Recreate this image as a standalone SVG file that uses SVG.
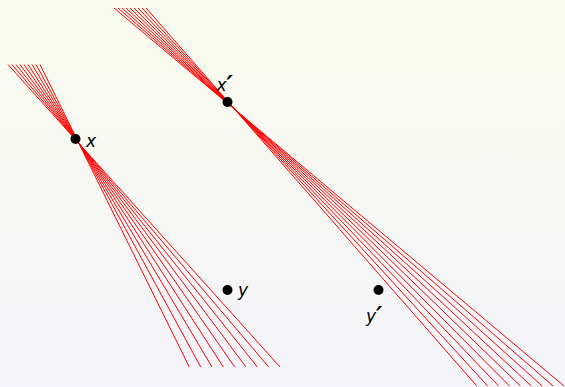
<svg xmlns="http://www.w3.org/2000/svg" width="565" height="387" viewBox="0 0 565 387">
<defs>
<linearGradient id="bg" x1="0" y1="0" x2="0" y2="1">
<stop offset="0" stop-color="#fafbee"/>
<stop offset="1" stop-color="#f4f4fa"/>
</linearGradient>
</defs>
<style>
.ray{stroke:#ff0000;stroke-width:1;fill:none}
.dot{fill:#000}
.lbl{font-family:"DejaVu Sans",sans-serif;font-style:italic;font-size:17px;fill:#000}
.pr{font-size:24px;font-weight:bold}
</style>
<rect x="0" y="0" width="565" height="387" fill="url(#bg)"/>
<g id="connectors">
<g id="fan-x">
<line class="ray" x1="8" y1="64.5" x2="280" y2="367"/>
<line class="ray" x1="12" y1="64.5" x2="268.7" y2="367"/>
<line class="ray" x1="16" y1="64.5" x2="257.3" y2="367"/>
<line class="ray" x1="20" y1="64.5" x2="246" y2="367"/>
<line class="ray" x1="24" y1="64.5" x2="234.7" y2="367"/>
<line class="ray" x1="28" y1="64.5" x2="223.3" y2="367"/>
<line class="ray" x1="32" y1="64.5" x2="212" y2="367"/>
<line class="ray" x1="36" y1="64.5" x2="200.7" y2="367"/>
<line class="ray" x1="40" y1="64.5" x2="189.3" y2="367"/>
</g>
<g id="fan-xp">
<line class="ray" x1="114" y1="8" x2="564" y2="386"/>
<line class="ray" x1="118" y1="8" x2="553.1" y2="386"/>
<line class="ray" x1="122" y1="8" x2="542.2" y2="386"/>
<line class="ray" x1="126" y1="8" x2="531.3" y2="386"/>
<line class="ray" x1="130" y1="8" x2="520.4" y2="386"/>
<line class="ray" x1="134" y1="8" x2="509.5" y2="386"/>
<line class="ray" x1="138" y1="8" x2="498.6" y2="386"/>
<line class="ray" x1="142" y1="8" x2="487.7" y2="386"/>
<line class="ray" x1="146" y1="8" x2="476.8" y2="386"/>
</g>
</g>
<g id="node-x">
<circle class="dot" cx="75.5" cy="139" r="5"/>
<text class="lbl" x="86" y="147">x</text>
</g>
<g id="node-y">
<circle class="dot" cx="227.5" cy="290" r="5"/>
<text class="lbl" x="238" y="296">y</text>
</g>
<g id="node-xp">
<circle class="dot" cx="227.5" cy="102" r="5"/>
<text class="lbl" x="216.5" y="91">x<tspan class="pr" dy="2">′</tspan></text>
</g>
<g id="node-yp">
<circle class="dot" cx="378.5" cy="290" r="5"/>
<text class="lbl" x="366" y="322">y<tspan class="pr" dy="2">′</tspan></text>
</g>
</svg>
